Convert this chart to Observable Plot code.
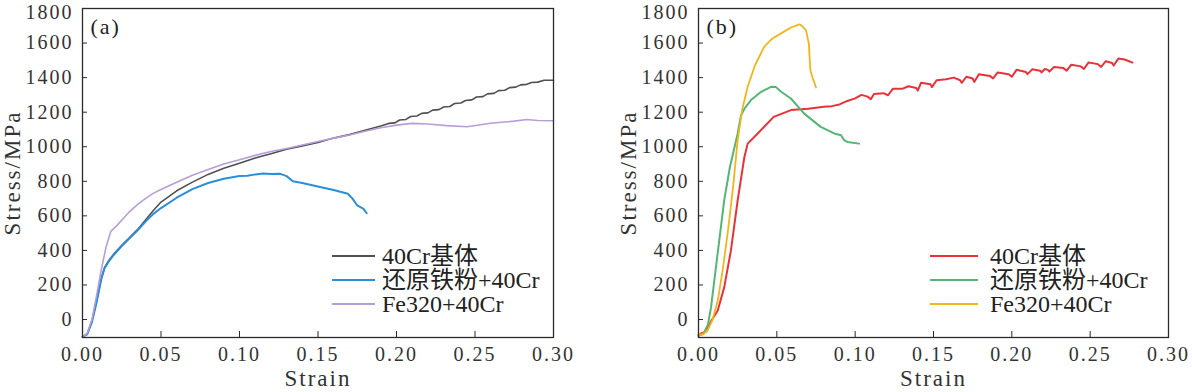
<!DOCTYPE html>
<html>
<head>
<meta charset="utf-8">
<script src="https://cdn.jsdelivr.net/npm/d3@7"></script>
<script src="https://cdn.jsdelivr.net/npm/@observablehq/plot@0.6"></script>
<style>
  html, body { margin: 0; padding: 0; background: #fff; }
  #wrap { position: relative; width: 1192px; height: 392px; display: flex; }
  #wrap svg text { font-family: "Liberation Serif", "Times New Roman", "DejaVu Serif", "Noto Sans CJK SC", serif; }
  .legend { position: absolute; font-family: "Liberation Serif", "Times New Roman", "DejaVu Serif", "Noto Sans CJK SC", serif; font-size: 24px; color: #222; }
  .row { position: absolute; left: 0; height: 24px; white-space: nowrap; }
  .row svg { position: absolute; left: 0; top: 0; }
  .row span { position: absolute; top: 0; line-height: 24px; }
</style>
</head>
<body>
<div id="wrap"></div>
<script>
// ---------------- data ----------------
const seriesNames = ["40Cr基体", "还原铁粉+40Cr", "Fe320+40Cr"];
const xTicks = [0, 0.05, 0.10, 0.15, 0.20, 0.25, 0.30];
const yTicks = [0, 200, 400, 600, 800, 1000, 1200, 1400, 1600, 1800];

// Panel (a)
const aMatrixStrain = [0.000,0.003,0.006,0.009,0.012,0.014,0.017,0.020,0.025,0.030,0.035,0.040,0.045,0.050,0.060,0.070,0.080,0.090,0.100,0.110,0.120,0.130,0.140,0.150,0.160,0.170,0.180,0.190,0.195,0.199,0.202,0.206,0.209,0.213,0.216,0.220,0.223,0.227,0.230,0.234,0.237,0.241,0.244,0.248,0.251,0.255,0.258,0.262,0.265,0.269,0.272,0.276,0.279,0.283,0.286,0.290,0.294,0.300];
const aMatrixStress = [-100,-85,-10,110,240,300,345,380,430,475,520,575,630,680,745,795,840,875,905,935,960,985,1005,1025,1050,1070,1095,1120,1135,1138,1155,1158,1175,1178,1193,1196,1212,1215,1230,1233,1250,1253,1268,1271,1288,1290,1306,1309,1325,1327,1342,1345,1358,1361,1372,1374,1385,1385];

const aIronStrain = [0.000,0.003,0.006,0.009,0.012,0.014,0.017,0.020,0.025,0.030,0.035,0.040,0.045,0.050,0.060,0.070,0.080,0.090,0.100,0.105,0.110,0.115,0.120,0.126,0.130,0.134,0.140,0.152,0.160,0.169,0.172,0.175,0.179,0.181];
const aIronStress = [-100,-85,-15,100,235,295,340,375,425,470,515,565,610,645,705,755,790,815,830,832,840,845,842,843,830,800,790,765,750,728,700,660,640,615];

const aFe320Strain = [0.000,0.003,0.006,0.009,0.012,0.015,0.018,0.022,0.026,0.030,0.035,0.040,0.045,0.050,0.060,0.070,0.080,0.090,0.100,0.110,0.120,0.130,0.140,0.150,0.160,0.170,0.180,0.190,0.200,0.210,0.220,0.232,0.245,0.260,0.275,0.283,0.290,0.300];
const aFe320Stress = [-100,-80,0,140,290,420,510,545,585,625,665,700,730,752,795,835,868,900,925,950,972,990,1010,1030,1050,1068,1090,1110,1125,1135,1132,1122,1116,1136,1148,1158,1152,1150];

// Panel (b)
const bMatrixStrain = [0.000,0.0016,0.005,0.008,0.0123,0.0164,0.0207,0.025,0.0293,0.0314,0.0378,0.048,0.059,0.070,0.080,0.085,0.090,0.095,0.100,0.104,0.108,0.110,0.112,0.118,0.121,0.124,0.130,0.134,0.139,0.140,0.142,0.148,0.149,0.152,0.158,0.163,0.167,0.168,0.171,0.175,0.176,0.179,0.186,0.188,0.191,0.198,0.200,0.203,0.209,0.210,0.213,0.218,0.219,0.221,0.223,0.224,0.227,0.233,0.235,0.238,0.244,0.246,0.249,0.255,0.257,0.260,0.264,0.265,0.268,0.272,0.277];
const bMatrixStress = [-95,-80,-70,-10,52,186,400,690,941,1018,1077,1173,1212,1220,1231,1235,1245,1265,1280,1300,1290,1275,1305,1310,1298,1335,1335,1350,1340,1325,1370,1362,1345,1385,1390,1400,1385,1370,1405,1395,1375,1420,1410,1395,1430,1420,1405,1445,1432,1420,1448,1440,1430,1450,1445,1435,1462,1455,1440,1475,1465,1450,1488,1478,1462,1495,1485,1470,1510,1505,1487];

const bIronStrain = [0.000,0.003,0.006,0.008,0.0122,0.0164,0.020,0.025,0.0271,0.0293,0.0335,0.040,0.0463,0.0495,0.0527,0.059,0.0673,0.078,0.0866,0.091,0.093,0.095,0.1025];
const bIronStress = [-90,-85,-30,70,382,690,880,1077,1180,1220,1270,1318,1347,1345,1318,1279,1193,1115,1077,1067,1038,1028,1018];

const bFe320Strain = [0.000,0.003,0.006,0.009,0.0123,0.0155,0.0186,0.022,0.025,0.028,0.0314,0.036,0.042,0.047,0.0527,0.059,0.0644,0.066,0.0686,0.0704,0.0714,0.0728,0.075];
const bFe320Stress = [-90,-85,-60,0,110,290,498,760,1038,1220,1347,1470,1579,1625,1656,1690,1708,1700,1675,1598,1443,1400,1343];

const colorsA = ["#505050", "#2a8fd8", "#b69ed8"];
const colorsB = ["#e8323a", "#55b575", "#f2b51c"];

// ---------------- build ----------------
function rows(strain, stress, name) {
  return strain.map((s, i) => ({strain: s, stress: stress[i], name}));
}
const dataA = [
  ...rows(aMatrixStrain, aMatrixStress, seriesNames[0]),
  ...rows(aIronStrain, aIronStress, seriesNames[1]),
  ...rows(aFe320Strain, aFe320Stress, seriesNames[2])
];
const dataB = [
  ...rows(bMatrixStrain, bMatrixStress, seriesNames[0]),
  ...rows(bIronStrain, bIronStress, seriesNames[1]),
  ...rows(bFe320Strain, bFe320Stress, seriesNames[2])
];

const FONT = "'Liberation Serif', 'Times New Roman', 'DejaVu Serif', 'Noto Sans CJK SC', serif";
const topTick = yTicks[yTicks.length - 1];
const lowerTicks = yTicks.slice(0, -1);

function panel(data, colors, label, marginLeft, marginRight, widths) {
  return Plot.plot({
    width: 596,
    height: 392,
    marginLeft, marginRight,
    marginTop: 8,
    marginBottom: 55,
    style: {fontFamily: FONT, fontSize: "20px", color: "#333", background: "transparent", letterSpacing: "2px", overflow: "visible"},
    x: {domain: [0, 0.3]},
    y: {domain: [-104, 1800]},
    marks: [
      ...seriesNames.map((n, i) => Plot.line(data.filter(d => d.name === n), {
        x: "strain", y: "stress", stroke: colors[i], strokeWidth: widths[i], curve: "linear"
      })),
      Plot.frame({stroke: "#2a2a2a", strokeWidth: 1.3}),
      Plot.axisX({ticks: xTicks, tickSize: 0, tickPadding: 9, tickFormat: d3.format(".2f"), label: null, fill: "#333"}),
      Plot.axisX({ticks: xTicks, tickSize: 6, dy: -6, tickFormat: () => "", label: null, stroke: "#2a2a2a"}),
      Plot.axisY({ticks: lowerTicks, tickSize: 0, tickPadding: 9, tickFormat: d3.format("d"), label: null, fill: "#333"}),
      Plot.axisY({ticks: [topTick], tickSize: 0, tickPadding: 9, dy: 4, tickFormat: d3.format("d"), label: null, fill: "#333"}),
      Plot.axisY({ticks: yTicks, tickSize: 5, dx: 5, tickFormat: () => "", label: null, stroke: "#2a2a2a"}),
      Plot.text(["Strain"], {frameAnchor: "bottom", dy: 41, lineAnchor: "middle", fontSize: 23, fill: "#333", text: d => d}),
      Plot.text(["Stress/MPa"], {frameAnchor: "left", dx: -70, rotate: -90, textAnchor: "middle", lineAnchor: "middle", fontSize: 23, fill: "#333", text: d => d}),
      Plot.text([label], {frameAnchor: "top-left", dx: 8, dy: 18, textAnchor: "start", lineAnchor: "middle", fontSize: 22, fill: "#222", text: d => d})
    ]
  });
}

const wrap = document.getElementById("wrap");
const pA = panel(dataA, colorsA, "(a)", 82, 43, [1.6, 2, 1.6]);
const pB = panel(dataB, colorsB, "(b)", 102, 24, [2, 2, 1.8]);
wrap.appendChild(pA);
wrap.appendChild(pB);

// legends (HTML overlay)
function legend(left, swatchW, textLeft, colors) {
  const div = document.createElement("div");
  div.className = "legend";
  div.style.left = left + "px";
  div.style.top = "244px";
  seriesNames.forEach((n, i) => {
    const r = document.createElement("div");
    r.className = "row";
    r.style.top = (i * 24) + "px";
    r.innerHTML = `<svg width="${swatchW}" height="24"><line x1="0" x2="${swatchW}" y1="12" y2="12" stroke="${colors[i]}" stroke-width="2"/></svg><span style="left:${textLeft}px">${n}</span>`;
    div.appendChild(r);
  });
  wrap.appendChild(div);
}
legend(332, 43, 50, colorsA);
legend(930, 48, 60, colorsB);
</script>
</body>
</html>
